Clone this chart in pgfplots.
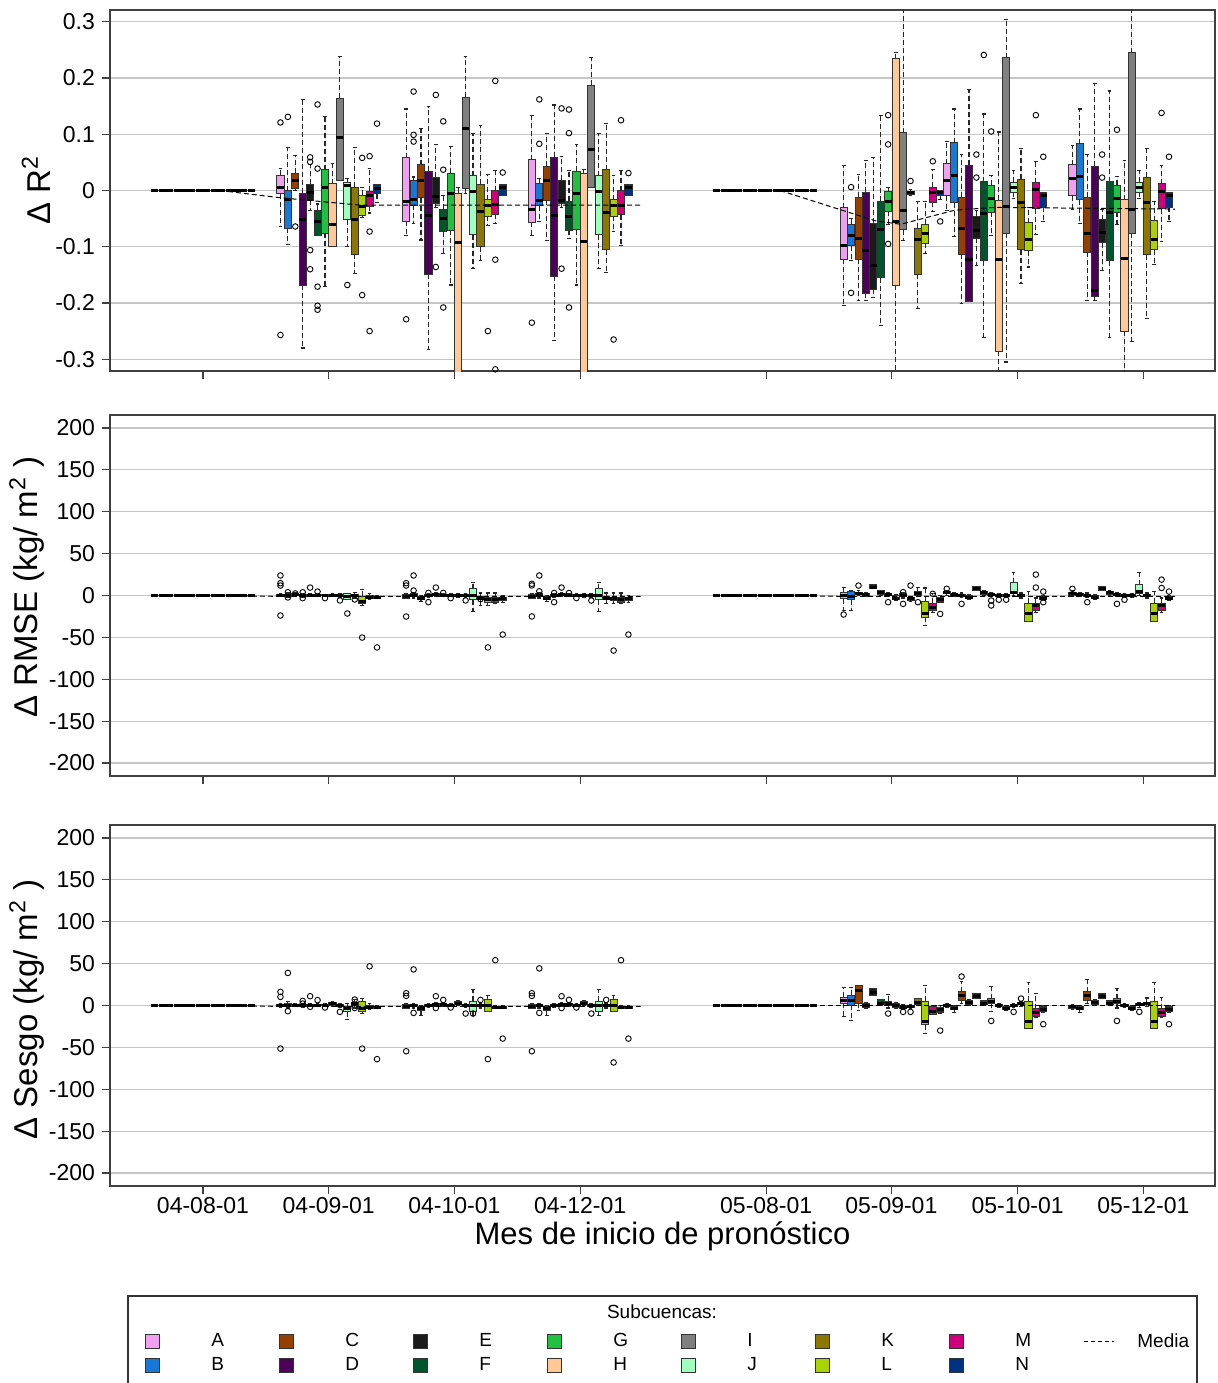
\documentclass[border=0pt]{standalone}
\usepackage{fontspec}
\setmainfont{Liberation Sans}
\usepackage{pgfplots}
\usepackage{pgfplotstable}
\pgfplotsset{compat=1.18}
\usepgfplotslibrary{statistics}

\definecolor{cA}{RGB}{240,160,240}
\definecolor{cB}{RGB}{24,120,216}
\definecolor{cC}{RGB}{150,64,0}
\definecolor{cD}{RGB}{75,0,90}
\definecolor{cE}{RGB}{26,26,26}
\definecolor{cF}{RGB}{0,85,45}
\definecolor{cG}{RGB}{34,192,64}
\definecolor{cH}{RGB}{255,200,150}
\definecolor{cI}{RGB}{128,128,128}
\definecolor{cJ}{RGB}{160,255,190}
\definecolor{cK}{RGB}{140,120,0}
\definecolor{cL}{RGB}{170,210,0}
\definecolor{cM}{RGB}{208,0,124}
\definecolor{cN}{RGB}{0,50,130}

% box position: group centre + slot of the subbasin (14 per group)
\newcommand\bxpos[1]{floor(#1/14)+1+0.47*(#1>55)+0.01*(#1>69)*(#1<84)-0.17*(#1>83)+(mod(#1,14)-6.5)*0.0591}

% one box from row #2 of table #1
\newcommand\boxrow[2]{%
  \pgfplotstablegetelem{#2}{lw}\of#1\let\vlw\pgfplotsretval
  \pgfplotstablegetelem{#2}{lq}\of#1\let\vlq\pgfplotsretval
  \pgfplotstablegetelem{#2}{med}\of#1\let\vmed\pgfplotsretval
  \pgfplotstablegetelem{#2}{uq}\of#1\let\vuq\pgfplotsretval
  \pgfplotstablegetelem{#2}{uw}\of#1\let\vuw\pgfplotsretval
  \edef\tmp{\noexpand\addplot+[boxplot prepared={draw direction=y, draw position={\bxpos{#2}}, lower whisker=\vlw, lower quartile=\vlq, median=\vmed, upper quartile=\vuq, upper whisker=\vuw}, line width=0.45pt] coordinates {};}%
  \tmp
}

% Delta R2: lw lq med uq uw, groups 04-08,04-09,04-10,04-12,05-08,05-09,05-10,05-12, rows A..N
\pgfplotstableread{
lw lq med uq uw
0 0 0 0 0
0 0 0 0 0
0 0 0 0 0
0 0 0 0 0
0 0 0 0 0
0 0 0 0 0
0 0 0 0 0
0 0 0 0 0
0 0 0 0 0
0 0 0 0 0
0 0 0 0 0
0 0 0 0 0
0 0 0 0 0
0 0 0 0 0
-0.064 -0.006 0.006 0.027 0.039
-0.096 -0.067 -0.016 0.000 0.077
0.000 0.003 0.017 0.031 0.062
-0.280 -0.168 -0.052 -0.005 0.162
-0.036 -0.017 -0.003 0.011 0.046
-0.080 -0.080 -0.055 -0.035 -0.024
-0.170 -0.076 0.005 0.037 0.132
-0.100 -0.100 -0.061 0.012 0.048
0.018 0.018 0.095 0.164 0.239
-0.100 -0.052 0.009 0.015 0.021
-0.147 -0.113 -0.051 0.006 0.076
-0.048 -0.045 -0.028 -0.008 0.006
-0.040 -0.028 -0.009 -0.001 0.039
-0.021 -0.006 0.004 0.011 0.011
-0.080 -0.055 -0.020 0.058 0.145
-0.058 -0.026 -0.016 0.018 0.024
-0.088 -0.013 0.018 0.046 0.110
-0.282 -0.149 -0.045 0.034 0.149
-0.030 -0.023 -0.010 0.024 0.082
-0.112 -0.073 -0.049 -0.033 -0.009
-0.168 -0.071 -0.006 0.031 0.079
-0.500 -0.500 -0.093 -0.005 0.006
-0.005 0.003 0.111 0.166 0.238
-0.138 -0.079 -0.001 0.026 0.102
-0.124 -0.100 -0.037 0.011 0.115
-0.062 -0.046 -0.026 -0.016 0.029
-0.058 -0.042 -0.024 0.000 0.036
-0.008 -0.008 0.006 0.011 0.011
-0.080 -0.056 -0.033 0.055 0.134
-0.055 -0.027 -0.017 0.012 0.021
-0.089 -0.017 0.018 0.043 0.102
-0.267 -0.152 -0.045 0.059 0.152
-0.030 -0.023 -0.018 0.018 0.061
-0.086 -0.071 -0.046 -0.019 0.036
-0.168 -0.070 -0.005 0.034 0.082
-0.500 -0.500 -0.091 0.030 0.037
0.006 0.006 0.073 0.187 0.237
-0.138 -0.079 -0.001 0.026 0.101
-0.146 -0.105 -0.039 0.037 0.119
-0.073 -0.046 -0.026 -0.016 0.026
-0.097 -0.043 -0.027 0.000 0.036
-0.008 -0.008 0.006 0.011 0.011
0 0 0 0 0
0 0 0 0 0
0 0 0 0 0
0 0 0 0 0
0 0 0 0 0
0 0 0 0 0
0 0 0 0 0
0 0 0 0 0
0 0 0 0 0
0 0 0 0 0
0 0 0 0 0
0 0 0 0 0
0 0 0 0 0
0 0 0 0 0
-0.204 -0.122 -0.098 -0.031 0.045
-0.125 -0.098 -0.080 -0.060 -0.050
-0.196 -0.122 -0.086 -0.012 0.028
-0.195 -0.183 -0.106 -0.003 0.054
-0.190 -0.176 -0.133 -0.058 0.059
-0.240 -0.155 -0.070 -0.019 0.134
-0.060 -0.037 -0.020 -0.001 0.005
-0.500 -0.168 -0.055 0.234 0.245
-0.089 -0.070 -0.035 0.103 0.500
-0.009 -0.007 -0.004 -0.001 0.002
-0.210 -0.149 -0.088 -0.067 -0.019
-0.112 -0.094 -0.077 -0.060 -0.019
-0.037 -0.021 -0.003 0.006 0.037
-0.016 -0.009 -0.004 0.000 0.000
-0.036 -0.009 0.018 0.048 0.087
-0.082 -0.022 0.026 0.085 0.145
-0.201 -0.113 -0.067 -0.012 0.064
-0.198 -0.198 -0.122 0.045 0.180
-0.134 -0.085 -0.071 -0.046 -0.036
-0.261 -0.125 -0.040 0.016 0.136
-0.080 -0.039 -0.014 0.009 0.026
-0.500 -0.286 -0.122 -0.017 0.104
-0.305 -0.076 -0.029 0.236 0.304
-0.015 -0.003 0.006 0.015 0.036
-0.166 -0.105 -0.021 0.020 0.074
-0.136 -0.107 -0.088 -0.057 -0.030
-0.079 -0.032 0.001 0.014 0.052
-0.055 -0.030 -0.009 -0.003 -0.003
-0.033 -0.009 0.021 0.046 0.080
-0.058 -0.016 0.025 0.083 0.145
-0.196 -0.110 -0.076 -0.012 0.064
-0.195 -0.189 -0.177 0.043 0.191
-0.143 -0.093 -0.074 -0.052 -0.033
-0.261 -0.125 -0.039 0.016 0.177
-0.060 -0.039 -0.014 0.009 0.025
-0.500 -0.250 -0.121 -0.016 0.054
-0.269 -0.076 -0.033 0.245 0.500
-0.015 -0.003 0.006 0.015 0.036
-0.227 -0.114 -0.021 0.024 0.074
-0.132 -0.105 -0.088 -0.054 -0.019
-0.091 -0.032 -0.001 0.012 0.045
-0.055 -0.030 -0.009 -0.003 -0.003
}\tR

% Delta RMSE
\pgfplotstableread{
lw lq med uq uw
0 0 0 0 0
0 0 0 0 0
0 0 0 0 0
0 0 0 0 0
0 0 0 0 0
0 0 0 0 0
0 0 0 0 0
0 0 0 0 0
0 0 0 0 0
0 0 0 0 0
0 0 0 0 0
0 0 0 0 0
0 0 0 0 0
0 0 0 0 0
-1 -0.5 0 1 2
-2 -1 0 1.5 3
-1 0 1 2 3
-2 -1 0 1 2
-1 -0.5 0.5 1 2
-1 0 0.5 1 2
-1 -0.5 0 0.5 1
-1 0 0.5 1.5 2
-2 -1 0 1 2
-5 -5 -1 2 2
-3 -1 0 1 4
-12 -9 -7 -1 7
-5 -4 -2 0 2
-4 -4 -2 -1 0
-4 -3 -1 1 2
-3 -1 0 2 3
-7 -5 -3 -1 0
-2 -1 0 1 2
-1 0 1 2 3
-1 0 0.5 1 2
-1 0 0.5 1 2
-2 -1 0 1 2
-2 -1 0 1 2
-19 -5 0 8 15
-12 -5 -3 -1 3
-12 -8 -5 -2 3
-10 -8 -5 -2 3
-8 -6 -4 -2 0
-4 -3 -1 1 2
-3 -1 0 2 3
-7 -5 -3 -1 0
-2 -1 0 1 2
-1 0 1 2 3
-1 0 0.5 1 2
-1 0 0.5 1 2
-2 -1 0 1 2
-2 -1 0 1 2
-19 -5 0 8 15
-10 -5 -3 -1 3
-10 -6 -4 -3 3
-10 -8 -5 -2 3
-8 -6 -4 -2 0
0 0 0 0 0
0 0 0 0 0
0 0 0 0 0
0 0 0 0 0
0 0 0 0 0
0 0 0 0 0
0 0 0 0 0
0 0 0 0 0
0 0 0 0 0
0 0 0 0 0
0 0 0 0 0
0 0 0 0 0
0 0 0 0 0
0 0 0 0 0
-18 -4 0 4 10
-18 -5 -1 5 6
0 1 2 4 6
-1 0 1 3 4
8 8 10 13 13
0 1 3 6 6
-1 0 1 3 3
-6 -5 -3 0 1
-3 -1 0 2 4
-7 -6 -4 -2 -1
-1 0 2 5 10
-36 -26 -22 -7 9
-20 -18 -14 -9 2
-8 -8 -5 -2 0
0 2 3 5 6
-1 0 1 3 4
-2 -1 0 1 3
-5 -4 -2 0 1
6 6 8 11 11
0 1 3 5 6
-1 0 1 3 4
-2 -1 0 1 2
-2 -1 0 1 2
0 2 3 15 27
-3 -1 0 1 3
-31 -31 -22 -9 5
-20 -18 -12 -9 -3
-6 -5 -3 -1 0
-1 0 2 4 6
-1 0 1 3 4
-2 -1 0 1 3
-5 -4 -2 0 1
6 6 8 11 11
0 1 3 5 6
-1 0 1 3 4
-2 -1 0 1 2
-2 -1 0 1 2
0 3 5 13 27
-3 -1 0 1 3
-31 -31 -22 -9 5
-20 -18 -12 -9 -3
-6 -5 -3 -1 0
}\tM

% Delta Sesgo
\pgfplotstableread{
lw lq med uq uw
0 0 0 0 0
0 0 0 0 0
0 0 0 0 0
0 0 0 0 0
0 0 0 0 0
0 0 0 0 0
0 0 0 0 0
0 0 0 0 0
0 0 0 0 0
0 0 0 0 0
0 0 0 0 0
0 0 0 0 0
0 0 0 0 0
0 0 0 0 0
-2 -1 0 1 2
-3 -1 0 2 5
-1 0 0.5 1 2
-2 -1 0 1 2
-1 0 0.5 1 2
-1 0 0.5 1 2
-1 0 0.5 1 2
-1 0 2 4 5
-2 -1 0 1 2
-17 -7.5 -4 -1 2
-3 0 2 4 7
-10 -7.5 -4 5 8
-5 -4 -2 0 2
-4 -3 -2 -1 0
-4 -3 -1 1 2
-3 -1 0 1 2
-12 -5.6 -3 -1.6 0
-2 -1 0 1 2
-1 0 1 2 3
-1 0 1 2 3
-1 0 0.5 1 2
0 2 3 5 6
-2 -1 0 1 2
-12 -7.5 0 5 19.5
-3 -1 0 1 3
-7.5 -7.5 0 7 11.5
-4 -3 -2 -1 0
-4 -3 -2 -1 0
-4 -3 -1 1 2
-3 -1 0 1 2
-12 -5.6 -3 -1.6 0
-2 -1 0 1 2
-1 0 1 2 3
-1 0 1 2 3
-1 0 0.5 1 2
0 2 3 5 6
-2 -1 0 1 2
-12 -7.5 0 5 19.5
-3 -1 0 1 3
-7.5 -7.5 0 7 11.5
-4 -3 -2 -1 0
-4 -3 -2 -1 0
0 0 0 0 0
0 0 0 0 0
0 0 0 0 0
0 0 0 0 0
0 0 0 0 0
0 0 0 0 0
0 0 0 0 0
0 0 0 0 0
0 0 0 0 0
0 0 0 0 0
0 0 0 0 0
0 0 0 0 0
0 0 0 0 0
0 0 0 0 0
-13.5 3 6 10 21
-17.5 0.5 6 12 21
-5.6 3 18 24 24
-3 -2.4 0 2.3 3
12 12 16 20 20
0 1 3 7 7
-3 0 2 5 13
-4 -2.4 0 3 3
-5 -4 -2 0 1
-3 -2 -1 0 1
0 1.5 4 8 8
-33 -23 -19 5 24
-11 -10.4 -7 -1.6 0
-9 -8.8 -5 -2.4 0
-2 -1 0 1 2
-8 -5 -3 -1 0
2 6.4 12 16.7 28.3
0 1.5 4 6.4 7
8.3 8.3 11 14.3 14.3
0 1.5 3 5.5 6
-7.6 3 5 8.3 22.3
-2 -1 0 1 2
-6 -5 -3 -1.2 0
-2 -1 0 1 2
-1 1 2 4 5
-27 -27 -19 5 28
-14 -13.5 -8 -3.6 14
-8 -7.6 -5 -1.6 0
-5 -4 -1 0 1
-8 -5 -3 -1 0
2 6.4 12 16.7 30.7
0 1.5 4 6.4 7
8.3 8.3 11 14.3 14.3
0 1.5 3 5.5 6
-3 3 5 8.3 20
-2 -1 0 1 2
-6 -5 -3 -1.2 0
-2 0 1 2 3
-1 1 2 4 9
-27 -27 -19 5 27
-14 -13.5 -8 -3.6 10
-8 -7.6 -5 -1.6 0
}\tS

\pgfplotsset{
  panel/.style={
    scale only axis, width=552.5pt, height=180.5pt,
    xmin=0.26, xmax=9.05,
    xtick={1,2,3,4,5.48,6.475,7.48,8.48},
    xticklabels={},
    tick align=outside, xtick pos=left, ytick pos=left,
    major tick length=4pt,
    ymajorgrids, grid style={gray!45, line width=0.6pt},
    axis line style={black!75, line width=0.6pt},
    tick style={black!75, line width=0.6pt},
    tick label style={font=\fontsize{11.5}{13}\selectfont},
    xticklabel style={inner sep=1.5pt},
    every axis y label/.style={at={(rel axis cs:0,0.5)}, xshift=-37pt, rotate=90, anchor=center, font=\fontsize{16.5}{19}\selectfont},
    every axis x label/.style={at={(rel axis cs:0.5,0)}, yshift=-25pt, anchor=center, font=\fontsize{15.5}{18}\selectfont},
    cycle list={{draw=black!80,fill=cA},{draw=black!80,fill=cB},{draw=black!80,fill=cC},{draw=black!80,fill=cD},{draw=black!80,fill=cE},{draw=black!80,fill=cF},{draw=black!80,fill=cG},{draw=black!80,fill=cH},{draw=black!80,fill=cI},{draw=black!80,fill=cJ},{draw=black!80,fill=cK},{draw=black!80,fill=cL},{draw=black!80,fill=cM},{draw=black!80,fill=cN}},
    boxplot/draw direction=y,
    boxplot/box extend=0.056,
    boxplot/whisker extend=0.03,
    boxplot/every median/.style={line width=1.5pt, black},
    boxplot/every whisker/.style={black!85, line width=0.55pt, dash pattern=on 2.5pt off 1.5pt},
  },
  outl/.style={only marks, mark=o, mark size=1.4pt, black, mark options={line width=0.45pt}},
  media/.style={black, dash pattern=on 2.5pt off 1.5pt, line width=0.5pt},
  sq/.style={legend image code/.code={\draw[##1, line width=0.5pt] (0pt,-3.5pt) rectangle (7pt,3.5pt);}},
}

\begin{document}
\begin{tikzpicture}

% ---- Delta R2
\begin{axis}[panel, at={(0pt,0pt)}, anchor=north west,
  ymin=-0.321, ymax=0.321,
  ytick={-0.3,-0.2,-0.1,0,0.1,0.2,0.3},
  yticklabels={-0.3,-0.2,-0.1,0,0.1,0.2,0.3},
  ylabel={Δ R\textsuperscript{2}}]
\pgfplotsinvokeforeach{0,...,111}{\boxrow{\tR}{#1}}
\addplot[outl] coordinates {
(1.616,0.121) (1.616,-0.257) (1.675,0.131) (1.734,-0.064) (1.852,0.059) (1.852,0.051) (1.852,-0.106) (1.852,-0.140)
(1.911,0.153) (1.911,0.039) (1.911,-0.171) (1.911,-0.205) (1.911,-0.212) (2.148,-0.168) (2.266,0.058) (2.266,-0.186)
(2.325,0.061) (2.325,-0.073) (2.325,-0.250) (2.384,0.119)
(2.616,-0.229) (2.675,0.176) (2.675,0.099) (2.675,0.087) (2.852,0.170) (2.852,-0.136) (2.911,0.123) (2.911,0.037)
(2.911,-0.208) (3.266,-0.250) (3.325,0.195) (3.325,-0.123) (3.325,-0.318) (3.384,0.032)
(3.616,-0.235) (3.675,0.162) (3.675,0.083) (3.852,-0.139) (3.852,0.146) (3.911,0.144) (3.911,0.102) (3.911,-0.208)
(4.266,-0.265) (4.325,0.125) (4.384,0.031)
(6.155,0.006) (6.155,-0.182) (6.450,0.134) (6.450,0.082) (6.450,-0.095) (6.628,0.017) (6.805,0.052) (6.864,-0.055)
(7.152,0.064) (7.152,0.023) (7.211,0.241) (7.270,0.105) (7.625,0.134) (7.684,0.060)
(8.152,0.064) (8.152,0.023) (8.270,0.108) (8.625,0.138) (8.684,0.060)
};
\addplot[media] coordinates {(1.135,0) (1.62,-0.013) (2.25,-0.026) (4.48,-0.026)};
\addplot[media] coordinates {(5.59,0) (6.35,-0.054) (6.55,-0.06) (6.98,-0.035) (7.3,-0.03) (8.73,-0.033)};
\end{axis}

% ---- Delta RMSE
\begin{axis}[panel, at={(0pt,-202.5pt)}, anchor=north west,
  ymin=-215.5, ymax=215.5,
  ytick={-200,-150,-100,-50,0,50,100,150,200},
  yticklabels={-200,-150,-100,-50,0,50,100,150,200},
  every axis y label/.append style={at={(rel axis cs:0,0.545)}, xshift=-4pt, yshift=4.5pt},
  ylabel={Δ RMSE (kg/ m\textsuperscript{2} )}]
\pgfplotsinvokeforeach{0,...,111}{\boxrow{\tM}{#1}}
\addplot[outl] coordinates {
(1.616,23.9) (1.616,14.7) (1.616,11.9) (1.616,-23.9) (1.675,3.9) (1.675,-2.3) (1.734,2.5) (1.793,3.9) (1.793,-3.1)
(1.852,9.5) (1.911,4.7) (1.970,-3.1) (2.089,-5.9) (2.148,-21.5) (2.207,-4.7) (2.266,-50.2) (2.384,-62)
(2.616,14.7) (2.616,11.9) (2.616,-25.1) (2.675,23.9) (2.675,6) (2.793,-7.9) (2.793,3.1) (2.852,9.5) (2.911,3.1)
(2.970,-3.1) (3.089,-5.9) (3.207,-4.3) (3.266,-62) (3.384,-46.6)
(3.616,14) (3.616,12) (3.616,-25) (3.675,23.9) (3.675,5) (3.793,-7.9) (3.793,3) (3.852,9.5) (3.911,3)
(3.970,-3) (4.089,-6) (4.266,-65.7) (4.384,-46.6)
(6.096,-22.7) (6.214,11.9) (6.450,-8) (6.569,-10) (6.569,4) (6.628,11.9) (6.687,-8) (6.805,2) (6.864,-22)
(6.916,8) (7.034,-10) (7.270,-11.9) (7.270,-6) (7.330,-5) (7.389,-5) (7.625,25) (7.625,9.5) (7.684,4.7) (7.684,-8)
(7.916,8) (8.034,-8) (8.270,-10) (8.330,-5) (8.625,19) (8.625,9) (8.684,4.7)
};
\addplot[media] coordinates {(1.135,0) (1.6,-1) (4.48,-1)};
\addplot[media] coordinates {(5.59,0) (6.1,-1) (8.73,-1)};
\end{axis}

% ---- Delta Sesgo
\begin{axis}[panel, at={(0pt,-407.5pt)}, anchor=north west,
  ymin=-215.5, ymax=215.5,
  ytick={-200,-150,-100,-50,0,50,100,150,200},
  yticklabels={-200,-150,-100,-50,0,50,100,150,200},
  xticklabels={04-08-01,04-09-01,04-10-01,04-12-01,05-08-01,05-09-01,05-10-01,05-12-01},
  every axis y label/.append style={xshift=-2pt, yshift=4.5pt},
  ylabel={Δ Sesgo (kg/ m\textsuperscript{2} )},
  xlabel={Mes de inicio de pronóstico}]
\pgfplotsinvokeforeach{0,...,111}{\boxrow{\tS}{#1}}
\addplot[outl] coordinates {
(1.616,16.3) (1.616,10.3) (1.616,-51.4) (1.675,38.9) (1.675,-6.8) (1.793,5.5) (1.793,2.3) (1.852,11.1) (1.852,-1.6)
(1.911,6.4) (1.970,-2.4) (2.089,-7.6) (2.207,7.1) (2.207,-3) (2.266,-51.4) (2.325,46.8) (2.384,-64)
(2.616,14.7) (2.616,11.5) (2.616,-54.6) (2.675,43.1) (2.675,-8.8) (2.852,11.1) (2.852,-3) (2.911,6.7) (2.970,-2.4)
(3.089,-9.6) (3.148,-9.6) (3.207,6.7) (3.266,-64) (3.325,54.1) (3.384,-39.5)
(3.616,14.7) (3.616,11.5) (3.616,-54.6) (3.675,44.3) (3.675,-8.8) (3.852,11.1) (3.852,-3) (3.911,6.7) (3.970,-2.4)
(4.089,-9.6) (4.207,6.7) (4.266,-68) (4.325,54.1) (4.384,-39.5)
(6.450,-9.6) (6.569,-7.6) (6.628,-7.6) (6.864,-29.9)
(7.034,34.6) (7.270,-18.4) (7.448,-7.6) (7.507,8.3) (7.684,-22.3)
(8.270,-18.4) (8.448,-7.6) (8.684,-22.3)
};
\addplot[media] coordinates {(1.135,0) (1.6,-1) (4.48,-1)};
\addplot[media] coordinates {(5.59,0) (6.1,0) (8.73,0)};
\end{axis}

% ---- legend
\begin{axis}[at={(0pt,-700pt)}, anchor=south west, hide axis, scale only axis,
  width=552.5pt, height=100pt, xmin=0, xmax=552.5, ymin=-700, ymax=-600,
  legend columns=8, legend cell align=left,
  legend style={draw=none, fill=none, at={(axis cs:17.5,-660.5)}, anchor=north west,
    inner sep=0pt, row sep=1.5pt, font=\fontsize{9.5}{11}\selectfont,
    nodes={inner sep=1pt, text width=20pt},
    /tikz/every odd column/.append style={column sep=24.5pt},
    /tikz/every even column/.append style={column sep=13pt}}]
\addlegendimage{sq, draw=black!80, fill=cA}\addlegendentry{A}
\addlegendimage{sq, draw=black!80, fill=cC}\addlegendentry{C}
\addlegendimage{sq, draw=black!80, fill=cE}\addlegendentry{E}
\addlegendimage{sq, draw=black!80, fill=cG}\addlegendentry{G}
\addlegendimage{sq, draw=black!80, fill=cI}\addlegendentry{I}
\addlegendimage{sq, draw=black!80, fill=cK}\addlegendentry{K}
\addlegendimage{sq, draw=black!80, fill=cM}\addlegendentry{M}
\addlegendimage{legend image code/.code={\draw[black, dash pattern=on 2pt off 1.5pt, line width=0.5pt] (0pt,0pt) -- (15pt,0pt);}}\addlegendentry{\hspace*{-14pt}Media}
\addlegendimage{sq, draw=black!80, fill=cB}\addlegendentry{B}
\addlegendimage{sq, draw=black!80, fill=cD}\addlegendentry{D}
\addlegendimage{sq, draw=black!80, fill=cF}\addlegendentry{F}
\addlegendimage{sq, draw=black!80, fill=cH}\addlegendentry{H}
\addlegendimage{sq, draw=black!80, fill=cJ}\addlegendentry{J}
\addlegendimage{sq, draw=black!80, fill=cL}\addlegendentry{L}
\addlegendimage{sq, draw=black!80, fill=cN}\addlegendentry{N}
\end{axis}

\node[font=\fontsize{9.5}{11}\selectfont] at (276pt,-651pt) {Subcuencas:};
\draw[black!80, line width=0.6pt] (9pt,-643pt) rectangle (543.5pt,-700pt);

\pgfresetboundingbox
\path[use as bounding box] (-55pt,5pt) rectangle (553.5pt,-686.5pt);
\end{tikzpicture}
\end{document}
